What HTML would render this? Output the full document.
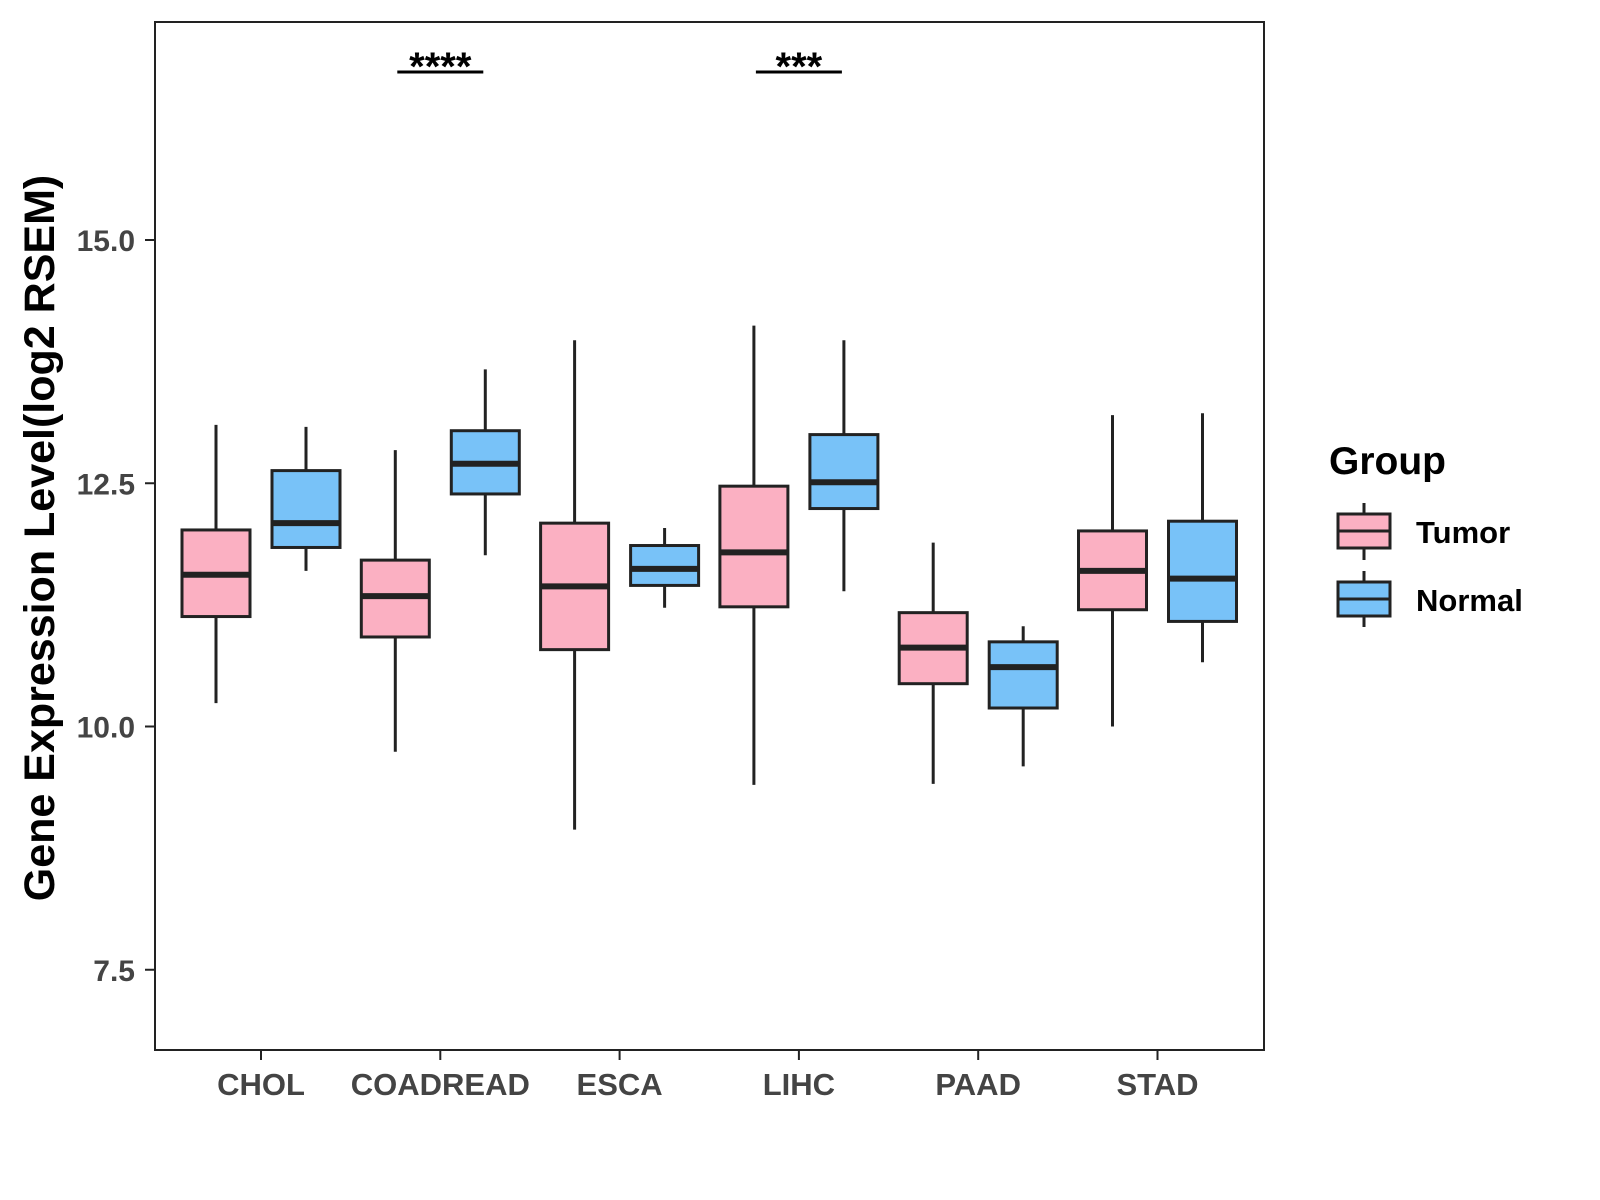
<!DOCTYPE html>
<html><head><meta charset="utf-8"><style>
html,body{margin:0;padding:0;background:#fff;}
svg{display:block;font-family:"Liberation Sans",Arial,sans-serif;}
</style></head><body>
<svg id="chart" width="1600" height="1200" viewBox="0 0 1600 1200">
<rect x="155" y="22" width="1109" height="1028" fill="#fff" stroke="#222" stroke-width="2"/>
<g id="boxes"></g>
<g id="axes"></g>
<text transform="translate(54,538) rotate(-90)" text-anchor="middle" font-size="43" font-weight="bold" fill="#000">Gene Expression Level(log2 RSEM)</text>
<g>
<text x="1329" y="474" font-size="39" font-weight="bold">Group</text>
<g>
<line x1="1364" y1="503" x2="1364" y2="560" stroke="#222" stroke-width="3"/>
<rect x="1338" y="514" width="52" height="34" fill="#FBB0C2" stroke="#222" stroke-width="3"/>
<line x1="1338" y1="531" x2="1390" y2="531" stroke="#222" stroke-width="3"/>
<text x="1416" y="543" font-size="31" font-weight="bold">Tumor</text></g>
<g>
<line x1="1364" y1="571" x2="1364" y2="627" stroke="#222" stroke-width="3"/>
<rect x="1338" y="582" width="52" height="34" fill="#78C2F8" stroke="#222" stroke-width="3"/>
<line x1="1338" y1="599" x2="1390" y2="599" stroke="#222" stroke-width="3"/>
<text x="1416" y="611" font-size="31" font-weight="bold">Normal</text></g>
</g>
</svg>
<script>
const categories=["CHOL","COADREAD","ESCA","LIHC","PAAD","STAD"];
const tumorLow=[10.24,9.74,8.94,9.40,9.41,10.00];
const tumorQ1=[11.13,10.92,10.79,11.23,10.44,11.20];
const tumorMed=[11.56,11.34,11.44,11.79,10.81,11.60];
const tumorQ3=[12.02,11.71,12.09,12.47,11.17,12.01];
const tumorHigh=[13.10,12.84,13.97,14.12,11.89,13.20];
const normalLow=[11.60,11.76,11.22,11.39,9.59,10.66];
const normalQ1=[11.84,12.39,11.45,12.24,10.19,11.08];
const normalMed=[12.09,12.70,11.62,12.51,10.61,11.52];
const normalQ3=[12.63,13.04,11.86,13.00,10.87,12.11];
const normalHigh=[13.08,13.67,12.04,13.97,11.03,13.22];
const yTicks=[7.5,10.0,12.5,15.0];
const sigCategories=["COADREAD","LIHC"];
const sigLabels=["****","***"];
const NS="http://www.w3.org/2000/svg";
function y(v){return 240+(15-v)*97.3;}
function x(i){return 261+i*179.3;}
function mk(tag,attrs,parent){const e=document.createElementNS(NS,tag);for(const k in attrs)e.setAttribute(k,attrs[k]);parent.appendChild(e);return e;}
const gB=document.getElementById('boxes'),gA=document.getElementById('axes');
function box(i,off,lo,q1,med,q3,hi,fill,nm){
 const g=mk('g',{},gB);
 
 
 const cx=x(i)+off;
 mk('line',{x1:cx,x2:cx,y1:y(hi),y2:y(lo),stroke:'#222','stroke-width':3},g);
 mk('rect',{x:cx-34,width:68,y:y(q3),height:y(q1)-y(q3),fill:fill,stroke:'#222','stroke-width':3},g);
 mk('line',{x1:cx-34,x2:cx+34,y1:y(med),y2:y(med),stroke:'#222','stroke-width':6},g);
}
categories.forEach((c,i)=>{
 box(i,-45,tumorLow[i],tumorQ1[i],tumorMed[i],tumorQ3[i],tumorHigh[i],'#FBB0C2','box-tumor-'+c.toLowerCase());
 box(i,45,normalLow[i],normalQ1[i],normalMed[i],normalQ3[i],normalHigh[i],'#78C2F8','box-normal-'+c.toLowerCase());
 mk('line',{x1:x(i),x2:x(i),y1:1050,y2:1060,stroke:'#222','stroke-width':2},gA);
 const t=mk('text',{x:x(i),y:1095,'text-anchor':'middle','font-size':31,'font-weight':'bold',fill:'#444'},gA);
 t.textContent=c;
 
 
});
yTicks.forEach(v=>{
 mk('line',{x1:145,x2:155,y1:y(v),y2:y(v),stroke:'#222','stroke-width':2},gA);
 const t=mk('text',{x:135,y:y(v)+11,'text-anchor':'end','font-size':30,'font-weight':'bold',fill:'#444'},gA);
 t.textContent=v.toFixed(1);
 
 
});
sigCategories.forEach((c,k)=>{
 const i=categories.indexOf(c);
 const g=mk('g',{},gB);
 
 
 mk('line',{x1:x(i)-43,x2:x(i)+43,y1:72,y2:72,stroke:'#000','stroke-width':3},g);
 const t=mk('text',{x:x(i),y:80,'text-anchor':'middle','font-size':40,'font-weight':'bold'},g);
 t.textContent=sigLabels[k];
});
</script>
</body></html>
